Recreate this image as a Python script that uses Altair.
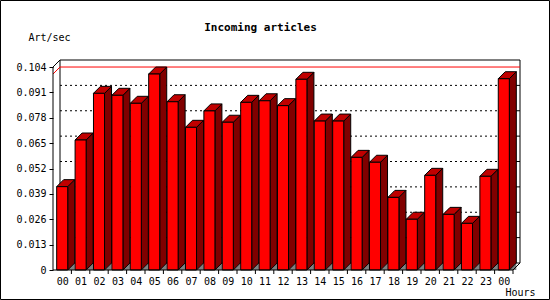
import json
import altair as alt
import pandas as pd

# ---------------- data ----------------
hours = ["00", "01", "02", "03", "04", "05", "06", "07", "08", "09", "10", "11",
         "12", "13", "14", "15", "16", "17", "18", "19", "20", "21", "22", "23", "00"]
rates = [0.0427, 0.0666, 0.0905, 0.0895, 0.0854, 0.1004, 0.0862, 0.0731, 0.0815,
         0.0757, 0.0859, 0.0867, 0.0842, 0.0977, 0.0763, 0.0763, 0.0577, 0.0552,
         0.0372, 0.0260, 0.0485, 0.0285, 0.0239, 0.0480, 0.0980]
y_ticks = [0, 0.013, 0.026, 0.039, 0.052, 0.065, 0.078, 0.091, 0.104]
chart_title = "Incoming articles"
y_title = "Art/sec"
x_title = "Hours"

# ---------------- layout / style ----------------
W, H = 467, 210          # plot area incl. 3D depth
PAD_L, PAD_T = 53, 60
CAT_PX = 18.4            # pixels per category on the front plane
DEPTH_PX = 7             # 3D depth in pixels
N = len(rates)
XD = W / CAT_PX
Y_TOP = y_ticks[-1]
YD = Y_TOP * H / (H - DEPTH_PX)
DX = DEPTH_PX / CAT_PX
DY = YD * DEPTH_PX / H
BL, BR = 0.2, 0.8        # bar front face within category

FRONT = "#ff0000"
SIDE = "#800000"
TOPC = "#c00000"
FLOOR = "#808080"
FONT = "DejaVu Sans Mono"

xs = alt.Scale(domain=[0, XD], nice=False, zero=False)
ys = alt.Scale(domain=[0, YD], nice=False, zero=False)

ids = list(range(N))
label_expr = json.dumps(hours) + "[round(datum.value - 0.5)]"

xax = alt.Axis(values=[i + 0.5 for i in ids], labelExpr=label_expr,
               domain=False, ticks=False, grid=False, labelPadding=6,
               labelFont=FONT, labelFontSize=10, labelColor="black",
               labelAngle=0, labelFlush=False, labelOverlap=False,
               titleFont=FONT, titleFontSize=10, titleFontWeight="normal",
               titleColor="black", titleX=452, titleY=25,
               titleAlign="left", titleBaseline="alphabetic")
yax = alt.Axis(values=y_ticks, format=".3~f", domain=False, grid=False,
               tickSize=4, tickColor="black", labelPadding=3,
               labelFont=FONT, labelFontSize=10, labelColor="black",
               labelOverlap=False, labelFlush=False,
               titleFont=FONT, titleFontSize=10, titleFontWeight="normal",
               titleColor="black", titleAngle=0, titleX=-25, titleY=-20,
               titleAlign="left", titleBaseline="alphabetic")


def X(field):
    return alt.X(field, type="quantitative", scale=xs, axis=xax, title=x_title)


def Y(field=None, datum=None):
    if datum is not None:
        return alt.Y(datum=datum, scale=ys, axis=yax, title=y_title)
    return alt.Y(field, type="quantitative", scale=ys, axis=yax, title=y_title)


front = pd.DataFrame({"id": ids, "x": [i + BL for i in ids],
                      "x2": [i + BR for i in ids], "v": rates})

side_rows, top_rows, tri_rows = [], [], []
for i, v in zip(ids, rates):
    side_rows.append({"id": i, "x": i + BR, "y": 0.0, "y2": v})
    side_rows.append({"id": i, "x": i + BR + DX, "y": DY, "y2": v + DY})
    top_rows.append({"id": i, "y": v, "x": i + BL, "x2": i + BR})
    top_rows.append({"id": i, "y": v + DY, "x": i + BL + DX, "x2": i + BR + DX})
    tri_rows.append({"id": i, "x": i + BR, "y": 0.0, "y2": 0.0})
    tri_rows.append({"id": i, "x": i + BR + DX, "y": 0.0, "y2": DY})
side = pd.DataFrame(side_rows)
top = pd.DataFrame(top_rows)
tri = pd.DataFrame(tri_rows)

tick_len = 6 / CAT_PX
grid = pd.DataFrame({"y": [t + DY for t in y_ticks[1:-1]],
                     "x": DX, "x2": XD - tick_len})
rtick = pd.DataFrame({"y": [t + DY for t in y_ticks[1:-1]],
                      "x": XD - tick_len, "x2": XD})

vmax = max(rates)
maxline = pd.DataFrame({"x": [0, DX, XD], "y": [vmax, vmax + DY, vmax + DY]})

box = pd.DataFrame({"x": [DX], "x2": [XD], "y": [DY], "y2": [YD]})
frame_lines = pd.DataFrame({
    "seg": [0, 0, 1, 1, 2, 2, 3, 3],
    "x": [0, 0, 0, DX, N, N + DX, 0, N],
    "y": [0, Y_TOP, Y_TOP, YD, 0, DY, 0, 0],
})
xticks = pd.DataFrame({"x": [k for k in range(1, N + 1)]})

# ---------------- layers ----------------
grid_l = alt.Chart(grid).mark_rule(color="black", strokeDash=[2, 3], strokeWidth=1).encode(
    x=X("x"), x2="x2", y=Y("y"))
rtick_l = alt.Chart(rtick).mark_rule(color="black", strokeWidth=1).encode(
    x=X("x"), x2="x2", y=Y("y"))
box_l = alt.Chart(box).mark_rect(fill=None, stroke="black", strokeWidth=1).encode(
    x=X("x"), x2="x2", y=Y("y"), y2="y2")
max_l = alt.Chart(maxline).mark_line(color="#ff0000", strokeWidth=1).encode(
    x=X("x"), y=Y("y"))
front_l = alt.Chart(front).mark_rect(fill=FRONT, stroke="black", strokeWidth=1).encode(
    x=X("x"), x2="x2", y=Y("v"), y2=alt.Y2(datum=0))
side_l = alt.Chart(side).mark_area(fill=SIDE, stroke="black", strokeWidth=1,
                                   orient="vertical", interpolate="linear").encode(
    x=X("x"), y=Y("y"), y2="y2", detail="id:N")
top_l = alt.Chart(top).mark_area(fill=TOPC, stroke="black", strokeWidth=1,
                                 orient="horizontal", interpolate="linear").encode(
    y=Y("y"), x=X("x"), x2="x2", detail="id:N")
tri_l = alt.Chart(tri).mark_area(fill=FLOOR, orient="vertical").encode(
    x=X("x"), y=Y("y"), y2="y2", detail="id:N")
frame_l = alt.Chart(frame_lines).mark_line(color="black", strokeWidth=1).encode(
    x=X("x"), y=Y("y"), detail="seg:N")
xtick_l = alt.Chart(xticks).mark_rule(color="black", strokeWidth=1).encode(
    x=X("x"), y=Y(datum=0), y2=alt.value(H + 4))

title_l = alt.Chart(pd.DataFrame({"t": [chart_title]})).mark_text(
    font=FONT, fontSize=11, fontWeight="bold", color="black",
    align="center", baseline="alphabetic").encode(
    text="t:N", x=alt.value(260.5 - PAD_L), y=alt.value(31 - PAD_T))

border_l = alt.Chart(pd.DataFrame({"a": [0]})).mark_rect(
    fill=None, stroke="black", strokeWidth=1).encode(
    x=alt.value(-PAD_L + 0.5), x2=alt.value(550 - PAD_L - 0.5),
    y=alt.value(-PAD_T + 0.5), y2=alt.value(300 - PAD_T - 0.5))

chart = alt.layer(
    grid_l, rtick_l, box_l, max_l, tri_l, side_l, top_l, front_l,
    frame_l, xtick_l, title_l, border_l,
).properties(
    width=W, height=H,
    padding={"left": PAD_L, "top": PAD_T, "right": 550 - PAD_L - W, "bottom": 300 - PAD_T - H},
    autosize=alt.AutoSizeParams(type="none"),
    background="white",
).configure_view(stroke=None)

chart.save("out.html", embed_options={"renderer": "svg", "actions": False})
